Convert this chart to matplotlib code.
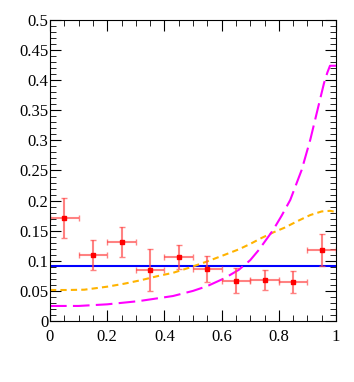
import numpy as np
import matplotlib.pyplot as plt
from matplotlib.ticker import MultipleLocator, FormatStrFormatter

## data points
xpts = [0.05, 0.15, 0.25, 0.35, 0.45, 0.55, 0.65, 0.75, 0.85, 0.95]
ypts = [0.171, 0.110, 0.131, 0.085, 0.106, 0.086, 0.067, 0.068, 0.065, 0.118]
yerr = [0.033, 0.025, 0.025, 0.035, 0.020, 0.022, 0.021, 0.017, 0.018, 0.026]
xerr = [0.05] * 10

## flat line
flat_level = 0.091

## orange dashed curve
xo = [0.0, 0.06, 0.12, 0.2, 0.26, 0.32, 0.38, 0.43, 0.49, 0.55, 0.6, 0.66, 0.7,
      0.74, 0.78, 0.82, 0.87, 0.91, 0.95, 0.98, 1.0]
yo = [0.0515, 0.0515, 0.052, 0.057, 0.062, 0.068, 0.075, 0.080, 0.089, 0.099, 0.108, 0.119, 0.128,
      0.138, 0.147, 0.155, 0.167, 0.176, 0.182, 0.183, 0.181]

## magenta long-dashed curve
xm = [0.0, 0.1, 0.2, 0.31, 0.43, 0.5, 0.55, 0.61, 0.66, 0.7, 0.73, 0.78, 0.81, 0.84,
      0.88, 0.91, 0.935, 0.958, 0.97, 0.979, 1.0]
ym = [0.025, 0.025, 0.0277, 0.033, 0.0415, 0.050, 0.058, 0.071, 0.085, 0.101, 0.118, 0.151, 0.175, 0.201,
      0.251, 0.301, 0.350, 0.395, 0.413, 0.424, 0.424]

plt.rcParams['font.family'] = ['Liberation Serif', 'DejaVu Serif']

fig = plt.figure(figsize=(3.54, 3.82), dpi=100)
ax = fig.add_axes([50/354, 61/382, 286/354, 301/382])

ax.axhline(flat_level, color='#0000ff', lw=1.5)
ax.plot(xo, yo, color='#ffb300', lw=1.5, dashes=(3, 2))
ax.plot(xm, ym, color='#ff00ff', lw=1.5, dashes=(8, 3))

ax.errorbar(xpts, ypts, xerr=xerr, yerr=yerr, fmt='s', color='red', ms=3,
            ecolor=(1, 0.3, 0.3, 0.7), elinewidth=1.5, capsize=2, capthick=1)

ax.set_xlim(0, 1)
ax.set_ylim(0, 0.5)
ax.xaxis.set_major_locator(MultipleLocator(0.2))
ax.xaxis.set_minor_locator(MultipleLocator(0.05))
ax.yaxis.set_major_locator(MultipleLocator(0.05))
ax.yaxis.set_minor_locator(MultipleLocator(0.01))
ax.xaxis.set_major_formatter(FormatStrFormatter('%g'))
ax.yaxis.set_major_formatter(FormatStrFormatter('%g'))
ax.tick_params(which='both', direction='in', top=True, right=True, labelsize=12)
ax.tick_params(which='major', length=8)
ax.tick_params(which='minor', length=4)
ax.tick_params(axis='y', pad=1)
ax.tick_params(axis='x', pad=6)

plt.savefig('out.png', dpi=100)
